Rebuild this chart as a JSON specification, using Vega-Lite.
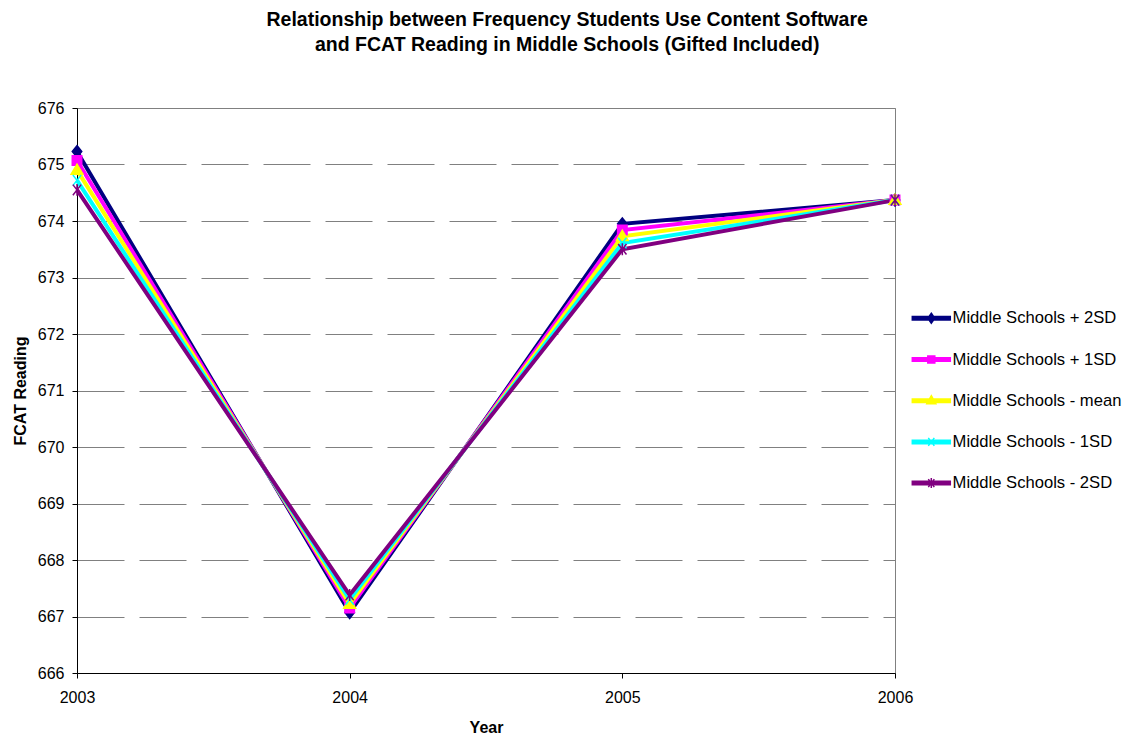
{
  "$schema": "https://vega.github.io/schema/vega-lite/v6.json",
  "autosize": {"type": "none"},
  "width": 818,
  "height": 565,
  "padding": {"left": 77, "top": 108, "right": 236, "bottom": 63},
  "background": "white",
  "title": {
    "text": ["Relationship between Frequency Students Use Content Software", "and FCAT Reading in Middle Schools (Gifted Included)"],
    "font": "Liberation Sans",
    "fontSize": 19.5,
    "fontWeight": "bold",
    "color": "black",
    "anchor": "middle",
    "frame": "bounds",
    "lineHeight": 25,
    "offset": 45
  },
  "config": {
    "view": {"stroke": "#808080", "strokeWidth": 1},
    "font": "Liberation Sans"
  },
  "data": {
    "values": [
      {"series": "Middle Schools + 2SD", "year": 2003, "value": 675.23},
      {"series": "Middle Schools + 2SD", "year": 2004, "value": 667.07},
      {"series": "Middle Schools + 2SD", "year": 2005, "value": 673.95},
      {"series": "Middle Schools + 2SD", "year": 2006, "value": 674.37},
      {"series": "Middle Schools + 1SD", "year": 2003, "value": 675.07},
      {"series": "Middle Schools + 1SD", "year": 2004, "value": 667.15},
      {"series": "Middle Schools + 1SD", "year": 2005, "value": 673.84},
      {"series": "Middle Schools + 1SD", "year": 2006, "value": 674.37},
      {"series": "Middle Schools - mean", "year": 2003, "value": 674.9},
      {"series": "Middle Schools - mean", "year": 2004, "value": 667.22},
      {"series": "Middle Schools - mean", "year": 2005, "value": 673.73},
      {"series": "Middle Schools - mean", "year": 2006, "value": 674.37},
      {"series": "Middle Schools - 1SD", "year": 2003, "value": 674.72},
      {"series": "Middle Schools - 1SD", "year": 2004, "value": 667.3},
      {"series": "Middle Schools - 1SD", "year": 2005, "value": 673.61},
      {"series": "Middle Schools - 1SD", "year": 2006, "value": 674.37},
      {"series": "Middle Schools - 2SD", "year": 2003, "value": 674.55},
      {"series": "Middle Schools - 2SD", "year": 2004, "value": 667.38},
      {"series": "Middle Schools - 2SD", "year": 2005, "value": 673.5},
      {"series": "Middle Schools - 2SD", "year": 2006, "value": 674.37}
    ]
  },
  "encoding": {
    "x": {
      "field": "year",
      "type": "quantitative",
      "scale": {"domain": [2003, 2006], "nice": false, "zero": false},
      "axis": {
        "title": "Year",
        "values": [2003, 2004, 2005, 2006],
        "format": "d",
        "grid": false,
        "domainColor": "black",
        "tickColor": "black",
        "tickSize": 5,
        "labelPadding": 11,
        "labelFont": "Liberation Sans",
        "labelFontSize": 16,
        "labelColor": "black",
        "titleFont": "Liberation Sans",
        "titleFontSize": 16,
        "titleFontWeight": "bold",
        "titleColor": "black",
        "titlePadding": 14,
        "labelFlush": false
      }
    },
    "y": {
      "field": "value",
      "type": "quantitative",
      "scale": {"domain": [666, 676], "nice": false, "zero": false},
      "axis": {
        "title": "FCAT Reading",
        "values": [666, 667, 668, 669, 670, 671, 672, 673, 674, 675, 676],
        "format": "d",
        "grid": true,
        "gridColor": "#808080",
        "gridDash": [47, 15],
        "gridWidth": 1,
        "domainColor": "black",
        "tickColor": "black",
        "tickSize": 5,
        "labelPadding": 8,
        "labelFont": "Liberation Sans",
        "labelFontSize": 16,
        "labelColor": "black",
        "titleFont": "Liberation Sans",
        "titleFontSize": 16,
        "titleFontWeight": "bold",
        "titleColor": "black",
        "titlePadding": 9,
        "labelFlush": false
      }
    }
  },
  "layer": [
    {
      "mark": {"type": "line", "strokeWidth": 4},
      "encoding": {
        "color": {
          "field": "series",
          "type": "nominal",
          "sort": null,
          "scale": {
            "domain": ["Middle Schools + 2SD", "Middle Schools + 1SD", "Middle Schools - mean", "Middle Schools - 1SD", "Middle Schools - 2SD"],
            "range": ["#000080", "#FF00FF", "#FFFF00", "#00FFFF", "#800080"]
          },
          "legend": null
        }
      }
    },
    {
      "mark": {"type": "point", "filled": true, "opacity": 1, "strokeWidth": 1.5, "size": 140},
      "encoding": {
        "fill": {
          "field": "series",
          "type": "nominal",
          "sort": null,
          "scale": {
            "domain": ["Middle Schools + 2SD", "Middle Schools + 1SD", "Middle Schools - mean", "Middle Schools - 1SD", "Middle Schools - 2SD"],
            "range": ["#000080", "#FF00FF", "#FFFF00", "#00FFFF", "#800080"]
          },
          "legend": null
        },
        "stroke": {
          "field": "series",
          "type": "nominal",
          "sort": null,
          "scale": {
            "domain": ["Middle Schools + 2SD", "Middle Schools + 1SD", "Middle Schools - mean", "Middle Schools - 1SD", "Middle Schools - 2SD"],
            "range": ["#000080", "#FF00FF", "#FFFF00", "#00FFFF", "#800080"]
          },
          "legend": null
        },
        "shape": {
          "field": "series",
          "type": "nominal",
          "sort": null,
          "scale": {
            "domain": ["Middle Schools + 2SD", "Middle Schools + 1SD", "Middle Schools - mean", "Middle Schools - 1SD", "Middle Schools - 2SD"],
            "range": [
              "M0,-1L0.8,0L0,1L-0.8,0Z",
              "M-0.8,-0.8H0.8V0.8H-0.8Z",
              "M0,-1L1,0.7L-1,0.7Z",
              "M-0.7,-0.9L0.7,0.9M-0.7,0.9L0.7,-0.9",
              "M-0.7,-0.9L0.7,0.9M-0.7,0.9L0.7,-0.9M0,-1L0,1"
            ]
          },
          "legend": null
        }
      }
    },
    {
      "mark": {"type": "point", "filled": true, "opacity": 0, "strokeWidth": 1.5},
      "encoding": {
        "fill": {
          "field": "series",
          "type": "nominal",
          "sort": null,
          "scale": {
            "domain": ["Middle Schools + 2SD", "Middle Schools + 1SD", "Middle Schools - mean", "Middle Schools - 1SD", "Middle Schools - 2SD"],
            "range": ["#000080", "#FF00FF", "#FFFF00", "#00FFFF", "#800080"]
          },
          "legend": {"orient": "none", "legendX": 846, "legendY": 202, "title": null, "symbolOpacity": 1, "symbolSize": 100, "symbolStrokeWidth": 1.5, "labelFont": "Liberation Sans", "labelFontSize": 16.6, "labelColor": "black", "labelOffset": 13, "rowPadding": 24.2, "labelLimit": 300}
        },
        "stroke": {
          "field": "series",
          "type": "nominal",
          "sort": null,
          "scale": {
            "domain": ["Middle Schools + 2SD", "Middle Schools + 1SD", "Middle Schools - mean", "Middle Schools - 1SD", "Middle Schools - 2SD"],
            "range": ["#000080", "#FF00FF", "#FFFF00", "#00FFFF", "#800080"]
          },
          "legend": {"orient": "none", "legendX": 846, "legendY": 202, "title": null, "symbolOpacity": 1, "symbolSize": 100, "symbolStrokeWidth": 1.5, "labelFont": "Liberation Sans", "labelFontSize": 16.6, "labelColor": "black", "labelOffset": 13, "rowPadding": 24.2, "labelLimit": 300}
        },
        "shape": {
          "field": "series",
          "type": "nominal",
          "sort": null,
          "scale": {
            "domain": ["Middle Schools + 2SD", "Middle Schools + 1SD", "Middle Schools - mean", "Middle Schools - 1SD", "Middle Schools - 2SD"],
            "range": [
              "M-3.8,-0.35H3.8V0.35H-3.8Z M0,-1L0.7,0L0,1L-0.7,0Z",
              "M-3.8,-0.35H3.8V0.35H-3.8Z M-0.7,-0.7H0.7V0.7H-0.7Z",
              "M-3.8,-0.35H3.8V0.35H-3.8Z M0,-1L0.9,0.6L-0.9,0.6Z",
              "M-3.8,-0.35H3.8V0.35H-3.8Z M-0.6,-0.8L0.6,0.8M-0.6,0.8L0.6,-0.8",
              "M-3.8,-0.35H3.8V0.35H-3.8Z M-0.6,-0.8L0.6,0.8M-0.6,0.8L0.6,-0.8M0,-1L0,1"
            ]
          },
          "legend": {"orient": "none", "legendX": 846, "legendY": 202, "title": null, "symbolOpacity": 1, "symbolSize": 100, "symbolStrokeWidth": 1.5, "labelFont": "Liberation Sans", "labelFontSize": 16.6, "labelColor": "black", "labelOffset": 13, "rowPadding": 24.2, "labelLimit": 300}
        }
      }
    }
  ],
  "resolve": {
    "scale": {"shape": "independent"},
    "legend": {"color": "independent", "fill": "independent", "stroke": "independent", "shape": "independent"}
  }
}
